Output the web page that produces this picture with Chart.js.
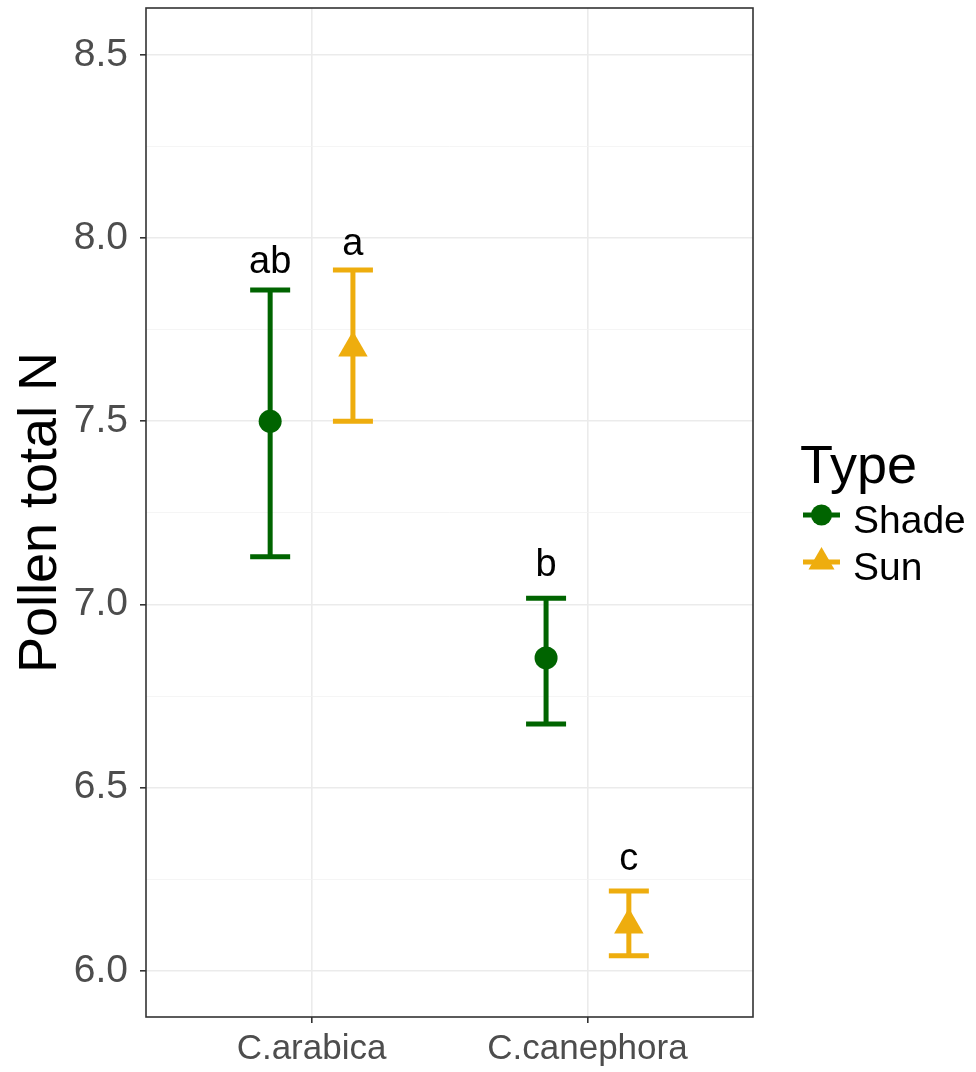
<!DOCTYPE html>
<html><head><meta charset="utf-8">
<script src="https://cdn.jsdelivr.net/npm/chart.js@4.4.1/dist/chart.umd.min.js"></script>
<style>html,body{margin:0;padding:0;background:#fff;}canvas{display:block;}</style>
</head><body>
<canvas id="c" width="976" height="1072"></canvas>
<script>
// ---- data ----
const categories = ['C.arabica', 'C.canephora'];
const seriesNames = ['Shade', 'Sun'];
const shadeMean  = [7.50, 6.854];
const shadeLower = [7.13, 6.674];
const shadeUpper = [7.858, 7.017];
const sunMean    = [7.70, 6.125];
const sunLower   = [7.50, 6.041];
const sunUpper   = [7.913, 6.218];
const shadeLetters = ['ab', 'b'];
const sunLetters   = ['a', 'c'];
const shadeLetterY = [7.905, 7.079];
const sunLetterY   = [7.954, 6.275];
const yTickValues  = [6.0, 6.25, 6.5, 6.75, 7.0, 7.25, 7.5, 7.75, 8.0, 8.25, 8.5];
const yTickLabels  = ['6.0', '', '6.5', '', '7.0', '', '7.5', '', '8.0', '', '8.5'];

// ---- styles ----
const GREEN = '#006400', GOLD = '#EEAD0E';
const DODGE = 0.15;
const FONT = "'Liberation Sans', Arial, sans-serif";

const mk = (means, off) => means.map((m, i) => ({x: i + 1 + off, y: m}));

const datasets = [
  {label: seriesNames[0], data: mk(shadeMean, -DODGE), lower: shadeLower, upper: shadeUpper,
   letters: shadeLetters, letterY: shadeLetterY, off: -DODGE,
   pointStyle: 'circle', pointRadius: 11.5, backgroundColor: GREEN, borderColor: GREEN, pointBorderWidth: 0},
  {label: seriesNames[1], data: mk(sunMean, DODGE), lower: sunLower, upper: sunUpper,
   letters: sunLetters, letterY: sunLetterY, off: DODGE,
   pointStyle: 'triangle', pointRadius: 17, backgroundColor: GOLD, borderColor: GOLD, pointBorderWidth: 0}
];

const errorBars = {
  id: 'errorBars',
  beforeDatasetsDraw(chart) {
    const {ctx, scales: {x, y}} = chart;
    ctx.save();
    ctx.lineWidth = 5;
    ctx.lineCap = 'butt';
    chart.data.datasets.forEach(ds => {
      ctx.strokeStyle = ds.borderColor;
      ds.lower.forEach((lo, i) => {
        const px = x.getPixelForValue(i + 1 + ds.off);
        const yl = y.getPixelForValue(lo), yu = y.getPixelForValue(ds.upper[i]);
        ctx.beginPath();
        ctx.moveTo(px, yl); ctx.lineTo(px, yu);
        ctx.moveTo(px - 20, yl); ctx.lineTo(px + 20, yl);
        ctx.moveTo(px - 20, yu); ctx.lineTo(px + 20, yu);
        ctx.stroke();
      });
    });
    ctx.restore();
  },
  afterDatasetsDraw(chart) {
    const {ctx, scales: {x, y}} = chart;
    ctx.save();
    ctx.fillStyle = '#000';
    ctx.font = '38px ' + FONT;
    ctx.textAlign = 'center';
    ctx.textBaseline = 'alphabetic';
    chart.data.datasets.forEach(ds => {
      ds.letters.forEach((t, i) => {
        ctx.fillText(t, x.getPixelForValue(i + 1 + ds.off), y.getPixelForValue(ds.letterY[i]));
      });
    });
    ctx.restore();
  },
  afterDraw(chart) {
    const {ctx, chartArea: a} = chart;
    ctx.save();
    ctx.strokeStyle = '#333333';
    ctx.lineWidth = 1.6;
    ctx.strokeRect(a.left, a.top, a.right - a.left, a.bottom - a.top);
    // legend
    ctx.fillStyle = '#000';
    ctx.textAlign = 'left';
    ctx.textBaseline = 'alphabetic';
    ctx.font = '54px ' + FONT;
    ctx.fillText('Type', 800, 483);
    ctx.font = '39px ' + FONT;
    chart.data.datasets.forEach((ds, k) => {
      const cy = 515 + k * 47;
      ctx.strokeStyle = ds.borderColor;
      ctx.lineWidth = 5;
      ctx.beginPath(); ctx.moveTo(803, cy); ctx.lineTo(840, cy); ctx.stroke();
      ctx.fillStyle = ds.backgroundColor;
      Chart.helpers.drawPoint(ctx, {pointStyle: ds.pointStyle, radius: ds.pointStyle === 'circle' ? 10.5 : 15, rotation: 0, borderWidth: 0}, 821.5, cy);
      ctx.fillStyle = '#000';
      ctx.fillText(ds.label, 853, cy + 18);
    });
    ctx.restore();
  }
};

new Chart(document.getElementById('c'), {
  type: 'scatter',
  data: {datasets},
  options: {
    responsive: false,
    animation: false,
    layout: {autoPadding: false, padding: {top: 8, right: 223, bottom: 0, left: 0}},
    plugins: {legend: {display: false}, tooltip: {enabled: false}},
    scales: {
      x: {
        type: 'linear', min: 0.4, max: 2.6,
        afterBuildTicks: s => { s.ticks = categories.map((c, i) => ({value: i + 1})); },
        afterFit: s => { s.height = 55; s.paddingLeft = 0; s.paddingRight = 0; },
        border: {display: false},
        grid: {color: '#EBEBEB', lineWidth: 1.6, tickColor: '#333333', tickLength: 6},
        ticks: {autoSkip: false, maxRotation: 0, padding: 5, color: '#4D4D4D',
                font: {family: FONT, size: 35},
                callback: v => categories[Math.round(v) - 1]}
      },
      y: {
        type: 'linear', min: 5.874, max: 8.628,
        afterBuildTicks: s => { s.ticks = yTickValues.map(v => ({value: v})); },
        afterFit: s => { s.width = 146; s.paddingTop = 0; s.paddingBottom = 0; },
        border: {display: false},
        grid: {
          color: c => (yTickLabels[c.index] ? '#EBEBEB' : '#F2F2F2'),
          lineWidth: c => (yTickLabels[c.index] ? 1.6 : 0.8),
          tickColor: c => (yTickLabels[c.index] ? '#333333' : 'rgba(0,0,0,0)'),
          tickLength: 6
        },
        ticks: {autoSkip: false, padding: 12, color: '#4D4D4D',
                font: {family: FONT, size: 39},
                callback: (v, i) => yTickLabels[i]},
        title: {display: true, text: 'Pollen total N', color: '#000',
                font: {family: FONT, size: 54}, padding: {top: 9, bottom: 0}}
      }
    }
  },
  plugins: [errorBars]
});
</script>
</body></html>
